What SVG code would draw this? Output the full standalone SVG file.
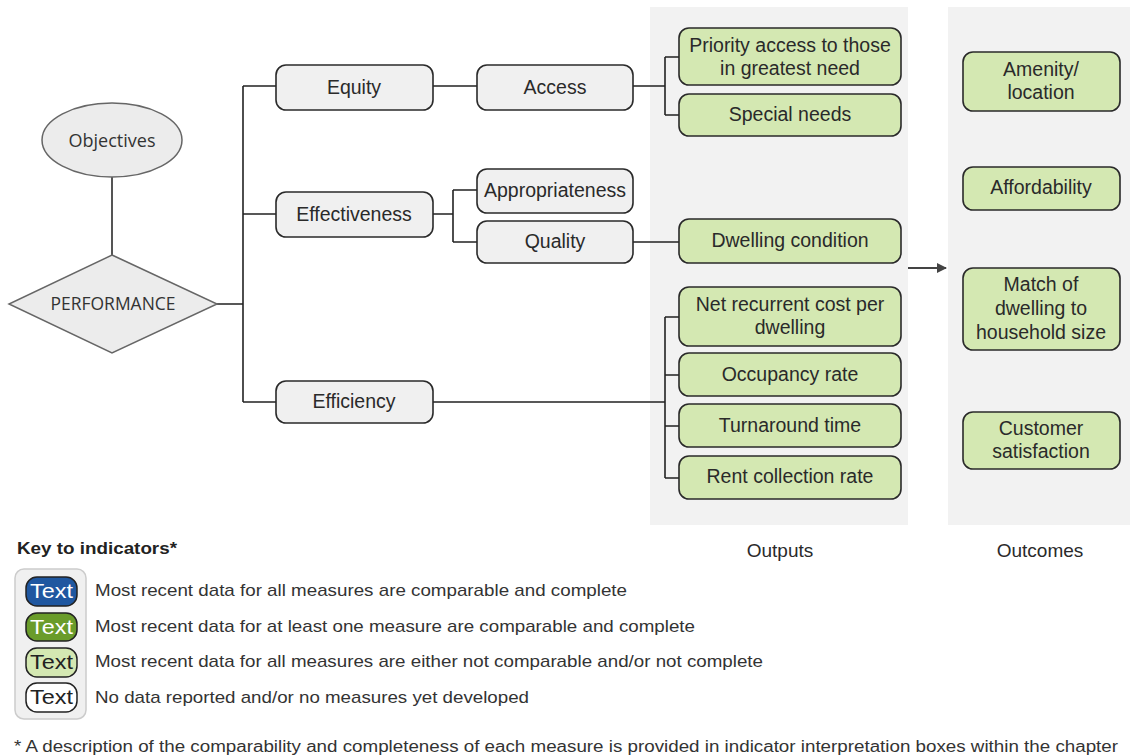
<svg xmlns="http://www.w3.org/2000/svg" width="1130" height="755" viewBox="0 0 1130 755">
<defs>
<style>
.t{font-family:"Liberation Sans",Arial,sans-serif;font-size:19.5px;fill:#2a2a2a;text-anchor:middle;dominant-baseline:central}
.g rect{fill:#f0f0f0;stroke:#2a2a2a;stroke-width:1.6}
.n rect{fill:#d4e8b2;stroke:#2a2a2a;stroke-width:1.6}
.c{stroke:#222;stroke-width:1.6;fill:none}
.k{font-family:"Liberation Sans",Arial,sans-serif;font-size:17px;fill:#333;dominant-baseline:central}
.p{font-family:"Liberation Sans",Arial,sans-serif;font-size:20px;text-anchor:middle;dominant-baseline:central}
.o{font-family:"Open Sans","Noto Sans",sans-serif;font-size:17.5px;fill:#333;text-anchor:middle;dominant-baseline:central}
</style>
<marker id="ah" markerWidth="10" markerHeight="10" refX="9" refY="5" orient="auto" markerUnits="userSpaceOnUse">
<path d="M0,0 L10,5 L0,10 z" fill="#444"/>
</marker>
</defs>
<rect width="1130" height="755" fill="#fff"/>
<rect x="650" y="7" width="258" height="518" fill="#f2f2f2"/>
<rect x="948" y="7" width="182" height="518" fill="#f2f2f2"/>
<text class="t" x="780" y="550" style="font-size:19px">Outputs</text>
<text class="t" x="1040" y="550" style="font-size:19px">Outcomes</text>

<g id="connectors">
<line x1="112" y1="177" x2="112" y2="255" stroke="#555" stroke-width="2"/>
<path class="c" d="M217,304 H243 M243,86 V402 M243,86 H276 M243,214 H276 M243,402 H276"/>
<path class="c" d="M433,86 H477"/>
<path class="c" d="M433,214 H453 M453,190 V242 M453,190 H477 M453,242 H477"/>
<path class="c" d="M633,86 H665 M665,57 V115 M665,57 H679 M665,115 H679"/>
<path class="c" d="M633,242 H679"/>
<path class="c" d="M433,402 H665 M665,317 V478 M665,317 H679 M665,375 H679 M665,426 H679 M665,478 H679"/>
<line x1="908" y1="268" x2="946" y2="268" stroke="#444" stroke-width="2" marker-end="url(#ah)"/>
</g>

<g id="objectives">
<ellipse cx="112" cy="140" rx="70" ry="37" fill="#ececec" stroke="#666" stroke-width="1.5"/>
<text class="o" x="112" y="140" textLength="87" lengthAdjust="spacingAndGlyphs">Objectives</text>
</g>
<g id="performance">
<polygon points="112,255 217,304 112,353 9,304" fill="#ececec" stroke="#666" stroke-width="1.5"/>
<text class="o" x="113" y="303" textLength="125" lengthAdjust="spacingAndGlyphs">PERFORMANCE</text>
</g>

<g id="equity" class="g"><rect x="276" y="65" width="157" height="45" rx="10"/><text class="t" x="354" y="87">Equity</text></g>
<g id="effectiveness" class="g"><rect x="276" y="192" width="157" height="45" rx="10"/><text class="t" x="354" y="214">Effectiveness</text></g>
<g id="efficiency" class="g"><rect x="276" y="381" width="157" height="42" rx="10"/><text class="t" x="354" y="401">Efficiency</text></g>
<g id="access" class="g"><rect x="477" y="65" width="156" height="45" rx="10"/><text class="t" x="555" y="87">Access</text></g>
<g id="appropriateness" class="g"><rect x="477" y="169" width="156" height="44" rx="10"/><text class="t" x="555" y="190">Appropriateness</text></g>
<g id="quality" class="g"><rect x="477" y="221" width="156" height="42" rx="10"/><text class="t" x="555" y="241">Quality</text></g>

<g id="priority" class="n"><rect x="679" y="28" width="222" height="57" rx="10"/><text class="t" x="790" y="45">Priority access to those</text><text class="t" x="790" y="68">in greatest need</text></g>
<g id="special" class="n"><rect x="679" y="94" width="222" height="42" rx="10"/><text class="t" x="790" y="114">Special needs</text></g>
<g id="dwelling" class="n"><rect x="679" y="219" width="222" height="44" rx="10"/><text class="t" x="790" y="240">Dwelling condition</text></g>
<g id="netcost" class="n"><rect x="679" y="287" width="222" height="59" rx="10"/><text class="t" x="790" y="304">Net recurrent cost per</text><text class="t" x="790" y="327">dwelling</text></g>
<g id="occupancy" class="n"><rect x="679" y="353" width="222" height="43" rx="10"/><text class="t" x="790" y="374">Occupancy rate</text></g>
<g id="turnaround" class="n"><rect x="679" y="404" width="222" height="43" rx="10"/><text class="t" x="790" y="425">Turnaround time</text></g>
<g id="rent" class="n"><rect x="679" y="456" width="222" height="43" rx="10"/><text class="t" x="790" y="476">Rent collection rate</text></g>

<g id="amenity" class="n"><rect x="963" y="52" width="157" height="59" rx="10"/><text class="t" x="1041" y="69">Amenity/</text><text class="t" x="1041" y="92">location</text></g>
<g id="affordability" class="n"><rect x="963" y="167" width="157" height="43" rx="10"/><text class="t" x="1041" y="187">Affordability</text></g>
<g id="match" class="n"><rect x="963" y="268" width="157" height="82" rx="10"/><text class="t" x="1041" y="284">Match of</text><text class="t" x="1041" y="308">dwelling to</text><text class="t" x="1041" y="332">household size</text></g>
<g id="customer" class="n"><rect x="963" y="412" width="157" height="57" rx="10"/><text class="t" x="1041" y="428">Customer</text><text class="t" x="1041" y="451">satisfaction</text></g>

<g id="key">
<text x="17" y="548" textLength="160" lengthAdjust="spacingAndGlyphs" style="font-family:'Liberation Sans',Arial,sans-serif;font-size:17px;font-weight:bold;fill:#222;dominant-baseline:central">Key to indicators*</text>
<rect x="15" y="569" width="71" height="150" rx="9" fill="#f0f0f0" stroke="#ccc" stroke-width="1.5"/>
<rect x="26" y="577" width="51" height="29" rx="11" fill="#1f57a0" stroke="#222" stroke-width="1.5"/>
<text class="p" x="51.5" y="591" fill="#fff" textLength="43" lengthAdjust="spacingAndGlyphs">Text</text>
<rect x="26" y="613" width="51" height="28" rx="11" fill="#6a9c2a" stroke="#222" stroke-width="1.5"/>
<text class="p" x="51.5" y="627" fill="#fff" textLength="43" lengthAdjust="spacingAndGlyphs">Text</text>
<rect x="26" y="648" width="51" height="29" rx="11" fill="#d4e8b2" stroke="#222" stroke-width="1.5"/>
<text class="p" x="51.5" y="662" fill="#222" textLength="43" lengthAdjust="spacingAndGlyphs">Text</text>
<rect x="26" y="683" width="51" height="29" rx="11" fill="#fff" stroke="#222" stroke-width="1.5"/>
<text class="p" x="51.5" y="697" fill="#222" textLength="43" lengthAdjust="spacingAndGlyphs">Text</text>
<text class="k" x="95" y="590" textLength="532" lengthAdjust="spacingAndGlyphs">Most recent data for all measures are comparable and complete</text>
<text class="k" x="95" y="626" textLength="600" lengthAdjust="spacingAndGlyphs">Most recent data for at least one measure are comparable and complete</text>
<text class="k" x="95" y="661" textLength="668" lengthAdjust="spacingAndGlyphs">Most recent data for all measures are either not comparable and/or not complete</text>
<text class="k" x="95" y="697" textLength="434" lengthAdjust="spacingAndGlyphs">No data reported and/or no measures yet developed</text>
</g>
<text class="k" x="14" y="746" textLength="1104" lengthAdjust="spacingAndGlyphs" style="font-size:16px">* A description of the comparability and completeness of each measure is provided in indicator interpretation boxes within the chapter</text>
</svg>
